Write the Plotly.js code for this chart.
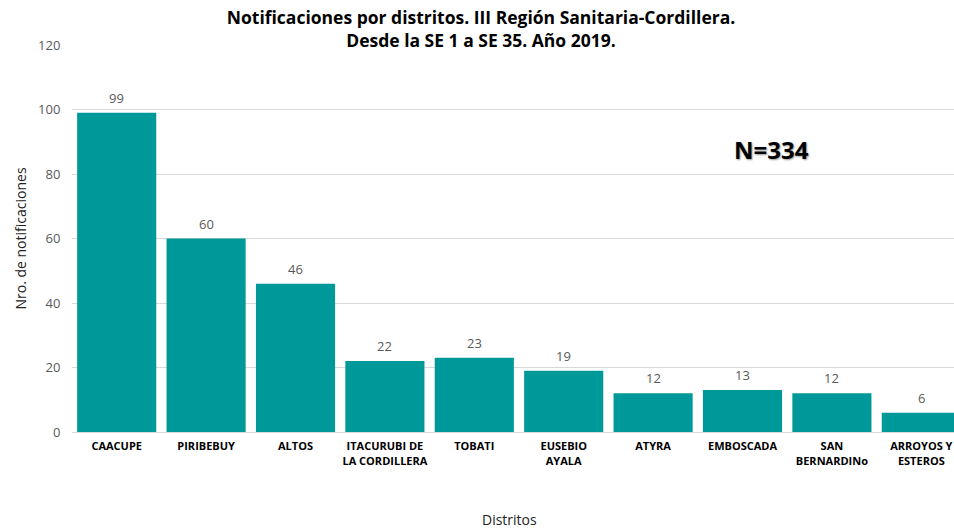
<!DOCTYPE html>
<html>
<head>
<meta charset="utf-8">
<script src="https://cdn.plot.ly/plotly-3.0.1.min.js"></script>
<style>
html,body{margin:0;padding:0;overflow:hidden;background:#fff;}
#chart{width:980px;height:529px;}
</style>
</head>
<body>
<div id="chart"></div>
<script>
const categories = ["CAACUPE","PIRIBEBUY","ALTOS","ITACURUBI DE<br>LA CORDILLERA","TOBATI","EUSEBIO<br>AYALA","ATYRA","EMBOSCADA","SAN<br>BERNARDINo","ARROYOS Y<br>ESTEROS"];
const values = [99,60,46,22,23,19,12,13,12,6];
const yTicks = [0,20,40,60,80,100,120];
const titleText = "<b>Notificaciones por distritos. III Región Sanitaria-Cordillera.<br>Desde la SE 1 a SE 35. Año 2019.</b>";
const totalLabel = "N=334";

const W = 980, H = 529;
const ml = 72, mr = 14, mt = 45, mb = 97;

const trace = {
  type: 'bar',
  x: categories,
  y: values,
  marker: {color: '#009999'},
  hoverinfo: 'x+y'
};

const annotations = categories.map((c, i) => ({
  x: c, y: values[i], xref: 'x', yref: 'y',
  text: String(values[i]), showarrow: false,
  yanchor: 'bottom', yshift: 4,
  font: {family: 'Open Sans', size: 13, color: '#595959'}
}));

annotations.push({
  xref: 'paper', yref: 'paper',
  x: (771 - ml) / (W - ml - mr), y: (432 - 149) / (432 - 45),
  xanchor: 'center', yanchor: 'middle',
  text: '<b>' + totalLabel + '</b>', showarrow: false,
  font: {family: 'Open Sans', size: 24, color: '#000', shadow: '1px 1px 2px #999'}
});

annotations.push({
  xref: 'paper', yref: 'paper',
  x: (509 - ml) / (W - ml - mr), y: -(519 - 432) / (432 - 45),
  xanchor: 'center', yanchor: 'middle',
  text: 'Distritos', showarrow: false,
  font: {family: 'Open Sans', size: 14, color: '#222'}
});

const layout = {
  width: W, height: H,
  margin: {l: ml, r: mr, t: mt, b: mb, pad: 0},
  paper_bgcolor: '#fff', plot_bgcolor: '#fff',
  bargap: 0.115,
  showlegend: false,
  title: {
    text: titleText,
    font: {family: 'Open Sans', size: 17.5, color: '#000'},
    xref: 'container', x: 481 / W, xanchor: 'center',
    yref: 'container', y: 1 - 24 / H, yanchor: 'middle'
  },
  xaxis: {
    type: 'category',
    tickmode: 'array',
    tickvals: categories,
    ticktext: categories.map(c => '<b>' + c + '</b>'),
    tickfont: {family: 'Open Sans', size: 11, color: '#000'},
    showgrid: false,
    showline: true, linecolor: '#d9d9d9', linewidth: 1,
    ticks: '', ticklen: 0,
    ticklabelstandoff: 4,
    tickangle: 0,
    automargin: false,
    range: [-0.5, categories.length - 0.5]
  },
  yaxis: {
    range: [0, 120],
    tickmode: 'array', tickvals: yTicks,
    tickfont: {family: 'Open Sans', size: 13, color: '#595959'},
    showgrid: true, gridcolor: '#d9d9d9', gridwidth: 1,
    zeroline: false, showline: false,
    ticks: 'outside', ticklen: 8, tickcolor: 'rgba(0,0,0,0)',
    automargin: false,
    title: {
      text: 'Nro. de notificaciones', standoff: 8,
      font: {family: 'Open Sans', size: 14, color: '#222'}
    }
  },
  annotations: annotations
};

Plotly.newPlot('chart', [trace], layout, {displayModeBar: false, staticPlot: true});
</script>
</body>
</html>
